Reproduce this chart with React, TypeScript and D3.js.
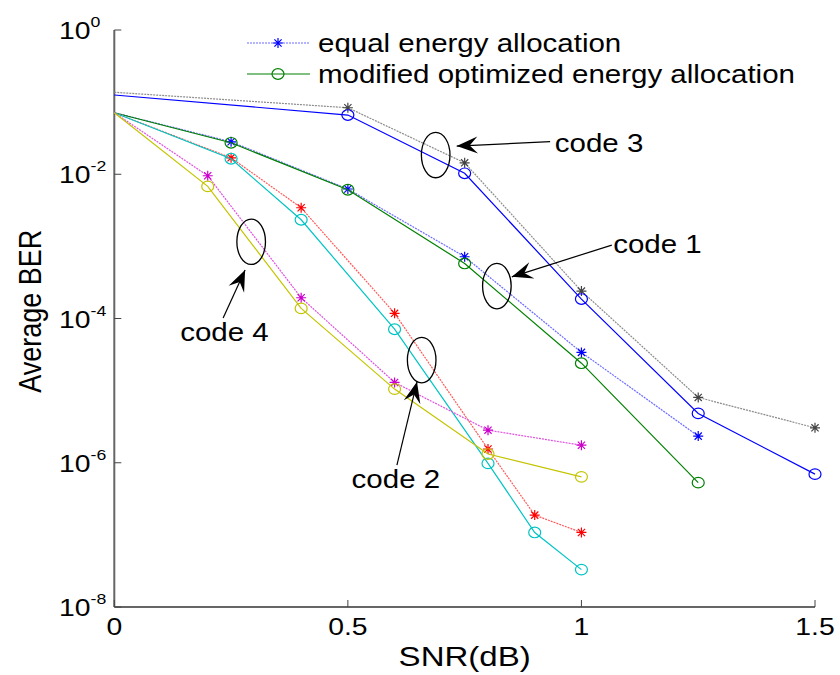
import React from "react";
import * as d3 from "d3";

// SNR points of each code
const snrCode1 = [0, 0.25, 0.5, 0.75, 1, 1.25];
const snrCode2 = [0, 0.25, 0.4, 0.6, 0.8, 0.9, 1];
const snrCode3 = [0, 0.5, 0.75, 1, 1.25, 1.5];
const snrCode4 = [0, 0.2, 0.4, 0.6, 0.8, 1];

// average BER, equal vs modified optimized allocation
const code1Equal = [0.0713, 0.0282, 0.00624, 7.18e-4, 3.39e-5, 2.34e-6];
const code1Mod = [0.0713, 0.0273, 0.0061, 5.8e-4, 2.4e-5, 5.3e-7];
const code2Equal = [0.0713, 0.0169, 0.00343, 1.18e-4, 1.55e-6, 1.88e-7, 1.08e-7];
const code2Mod = [0.0713, 0.0164, 0.00234, 7.1e-5, 9.8e-7, 1.08e-7, 3.3e-8];
const code3Equal = [0.137, 0.0836, 0.0144, 2.4e-4, 8.05e-6, 3.05e-6];
const code3Mod = [0.1255, 0.0662, 0.0103, 1.86e-4, 4.83e-6, 6.95e-7];
const code4Equal = [0.0713, 0.00953, 1.94e-4, 1.3e-5, 2.83e-6, 1.75e-6];
const code4Mod = [0.0713, 0.00679, 1.38e-4, 1.05e-5, 1.32e-6, 6.38e-7];

const xTicks = [0, 0.5, 1, 1.5];
const yExponents = [0, -2, -4, -6, -8];
const legendLabels = ["equal energy allocation", "modified optimized energy allocation"];

const series = [
  { x: snrCode3, y: code3Equal, line: "#8c8c8c", mark: "#444", marker: "star", dotted: true },
  { x: snrCode3, y: code3Mod, line: "#0000ff", mark: "#0000ff", marker: "circle", dotted: false },
  { x: snrCode1, y: code1Equal, line: "#6b6bff", mark: "#0000ff", marker: "star", dotted: true },
  { x: snrCode1, y: code1Mod, line: "#008000", mark: "#008000", marker: "circle", dotted: false },
  { x: snrCode2, y: code2Equal, line: "#ff5a5a", mark: "#ff0000", marker: "star", dotted: true },
  { x: snrCode2, y: code2Mod, line: "#00c4c4", mark: "#00c4c4", marker: "circle", dotted: false },
  { x: snrCode4, y: code4Equal, line: "#e050e0", mark: "#cc00cc", marker: "star", dotted: true },
  { x: snrCode4, y: code4Mod, line: "#c4c400", mark: "#c4c400", marker: "circle", dotted: false },
];

// annotations in data units: ellipse centre, arrow tail -> tip, label start
const notes = [
  { label: "code 3", ex: 0.688, ey: -1.734, tail: [0.933, -1.549], tip: [0.733, -1.609], tx: 0.943, ty: -1.688 },
  { label: "code 1", ex: 0.819, ey: -3.551, tail: [1.065, -2.982], tip: [0.851, -3.422], tx: 1.068, ty: -3.093 },
  { label: "code 4", ex: 0.293, ey: -2.936, tail: [0.233, -3.994], tip: [0.28, -3.329], tx: 0.141, ty: -4.313 },
  { label: "code 2", ex: 0.658, ey: -4.577, tail: [0.605, -6.033], tip: [0.648, -4.878], tx: 0.508, ty: -6.352 },
];

const W = 840;
const H = 675;
const SX = 1.18; // horizontal stretch of the text
const FONT = "'Liberation Sans', Arial, sans-serif";

const x = d3.scaleLinear().domain([0, 1.5]).range([114.3, 815]);
const y = d3.scaleLog().domain([1e-8, 1]).range([607, 30]);
const ly = (e: number) => y(Math.pow(10, e));

const Txt = ({ px, py, size, anchor = "start", children }: any) => (
  <g transform={`translate(${px},${py}) scale(${SX},1)`}>
    <text fontSize={size} textAnchor={anchor} fontFamily={FONT} fill="#000">
      {children}
    </text>
  </g>
);

const Star = ({ cx, cy, color }: any) => {
  const r = 5;
  const d = r * 0.72;
  return (
    <path
      d={`M${cx - r},${cy}H${cx + r}M${cx},${cy - r}V${cy + r}M${cx - d},${cy - d}L${cx + d},${cy + d}M${cx - d},${cy + d}L${cx + d},${cy - d}`}
      stroke={color}
      strokeWidth={1.2}
      fill="none"
    />
  );
};

const Marker = ({ kind, cx, cy, color }: any) =>
  kind === "star" ? (
    <Star cx={cx} cy={cy} color={color} />
  ) : (
    <ellipse cx={cx} cy={cy} rx={6} ry={5.3} stroke={color} strokeWidth={1.2} fill="none" />
  );

const arrowHead = (tipX: number, tipY: number, fromX: number, fromY: number) => {
  const ang = Math.atan2(tipY - fromY, tipX - fromX);
  const L = 21;
  const hw = 8.5;
  const notch = 13;
  const pt = (a: number, b: number) => {
    const px = tipX - a * Math.cos(ang) - b * Math.sin(ang);
    const py = tipY - a * Math.sin(ang) + b * Math.cos(ang);
    return `${px},${py}`;
  };
  return `M${tipX},${tipY}L${pt(L, hw)}L${pt(notch, 0)}L${pt(L, -hw)}Z`;
};

const App = () => {
  const line = d3
    .line<[number, number]>()
    .x((d) => x(d[0]))
    .y((d) => y(d[1]));

  return (
    <div style={{ position: "absolute", left: 0, top: 0 }}>
      <svg width={W} height={H} style={{ display: "block", background: "#fff" }}>
        {/* axes */}
        <line x1={x(0)} x2={x(0)} y1={y(1)} y2={y(1e-8)} stroke="#666" strokeWidth={2} />
        <line x1={x(0)} x2={x(1.5)} y1={y(1e-8)} y2={y(1e-8)} stroke="#666" strokeWidth={2} />
        {yExponents.map((e) => (
          <g key={e}>
            <line x1={x(0)} x2={x(0) + 7} y1={ly(e)} y2={ly(e)} stroke="#444" strokeWidth={1} />
            <Txt px={59} py={ly(e) + 9} size={24}>
              10
              <tspan dy={-12} fontSize={15}>
                {e}
              </tspan>
            </Txt>
          </g>
        ))}
        {xTicks.map((t) => (
          <g key={t}>
            <line x1={x(t)} x2={x(t)} y1={y(1e-8)} y2={y(1e-8) - 7} stroke="#444" strokeWidth={1} />
            <Txt px={x(t)} py={635} size={24} anchor="middle">
              {t}
            </Txt>
          </g>
        ))}
        <Txt px={x(0.75)} py={666} size={28} anchor="middle">
          SNR(dB)
        </Txt>
        <g transform={`translate(41,${ly(-3.9)}) scale(${SX},1) rotate(-90)`}>
          <text fontSize={27} textAnchor="middle" fontFamily={FONT} fill="#000">
            Average BER
          </text>
        </g>

        {/* series */}
        {series.map((s, i) => {
          const pts = s.x.map((v, j) => [v, s.y[j]] as [number, number]);
          return (
            <g key={i}>
              <path
                d={line(pts) || ""}
                fill="none"
                stroke={s.line}
                strokeWidth={1.2}
                strokeDasharray={s.dotted ? "2,1" : undefined}
              />
              {pts
                .filter((p) => p[0] > 0)
                .map((p, j) => (
                  <Marker key={j} kind={s.marker} cx={x(p[0])} cy={y(p[1])} color={s.mark} />
                ))}
            </g>
          );
        })}

        {/* annotations */}
        {notes.map((n) => {
          const tx = x(n.tail[0]);
          const ty = ly(n.tail[1]);
          const hx = x(n.tip[0]);
          const hy = ly(n.tip[1]);
          return (
            <g key={n.label}>
              <ellipse cx={x(n.ex)} cy={ly(n.ey)} rx={14.3} ry={22.7} fill="none" stroke="#000" strokeWidth={1.3} />
              <line x1={tx} y1={ty} x2={hx} y2={hy} stroke="#000" strokeWidth={1.2} />
              <path d={arrowHead(hx, hy, tx, ty)} fill="#000" />
              <Txt px={x(n.tx)} py={ly(n.ty)} size={25}>
                {n.label}
              </Txt>
            </g>
          );
        })}

        {/* legend */}
        {legendLabels.map((lab, i) => {
          const s = series[2 + i];
          const yy = 43 + i * 31;
          return (
            <g key={lab}>
              <line x1={247} x2={310} y1={yy} y2={yy} stroke={s.line} strokeWidth={1.2} strokeDasharray={s.dotted ? "2,1" : undefined} />
              <Marker kind={s.marker} cx={278} cy={yy} color={s.mark} />
              <Txt px={318} py={yy + 9} size={25}>
                {lab}
              </Txt>
            </g>
          );
        })}
      </svg>
    </div>
  );
};

export default App;
